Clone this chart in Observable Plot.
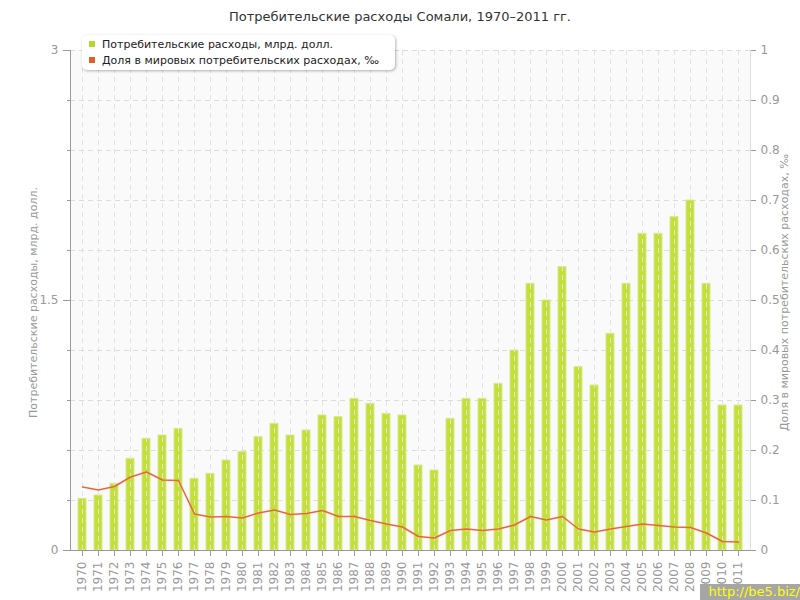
<!DOCTYPE html>
<html><head><meta charset="utf-8">
<script src="https://cdn.jsdelivr.net/npm/d3@7"></script>
<script src="https://cdn.jsdelivr.net/npm/@observablehq/plot@0.6"></script>
<style>
body{margin:0;background:#fff;font-family:"DejaVu Sans",sans-serif;}
#wrap{position:relative;width:800px;height:600px;overflow:hidden;}
#title{position:absolute;top:9px;left:0;width:800px;text-align:center;font-size:13px;color:#333;}
#legend{position:absolute;left:82px;top:35px;width:313px;height:35px;background:#fff;border-radius:5px;box-shadow:1px 1px 3px rgba(0,0,0,0.3);font-size:11px;color:#222;}
.li{position:absolute;left:7px;white-space:nowrap;}
.sw{display:inline-block;width:6px;height:6px;margin-right:7px;vertical-align:1px;}
.ylab{position:absolute;font-size:11px;color:#999;white-space:nowrap;transform-origin:center center;}
#wm{position:absolute;left:700px;top:584px;width:100px;height:16px;background:#a6a6a6;color:#ffff00;font-size:13px;line-height:16px;text-align:right;}
</style></head>
<body><div id="wrap"></div>
<script>
const years = [1970,1971,1972,1973,1974,1975,1976,1977,1978,1979,1980,1981,1982,1983,1984,1985,1986,1987,1988,1989,1990,1991,1992,1993,1994,1995,1996,1997,1998,1999,2000,2001,2002,2003,2004,2005,2006,2007,2008,2009,2010,2011];
const spending = [0.31,0.33,0.40,0.55,0.67,0.69,0.73,0.43,0.46,0.54,0.59,0.68,0.76,0.69,0.72,0.81,0.80,0.91,0.88,0.82,0.81,0.51,0.48,0.79,0.91,0.91,1.00,1.20,1.60,1.50,1.70,1.10,0.99,1.30,1.60,1.90,1.90,2.00,2.10,1.60,0.87,0.87];
const share = [0.127,0.121,0.128,0.147,0.157,0.141,0.140,0.073,0.067,0.068,0.065,0.075,0.081,0.072,0.074,0.080,0.068,0.068,0.060,0.053,0.047,0.028,0.025,0.040,0.043,0.040,0.043,0.051,0.068,0.061,0.068,0.043,0.037,0.043,0.048,0.053,0.050,0.047,0.046,0.035,0.018,0.017];
const leftTicks = [0,1.5,3];
const leftGrid = [0.3,0.6,0.9,1.2,1.5,1.8,2.1,2.4,2.7,3];
const rightTicks = [0,0.1,0.2,0.3,0.4,0.5,0.6,0.7,0.8,0.9,1];
const title = "Потребительские расходы Сомали, 1970–2011 гг.";
const seriesNames = ["Потребительские расходы, млрд. долл.","Доля в мировых потребительских расходах, ‰"];
const leftLabel = "Потребительские расходы, млрд. долл.";
const rightLabel = "Доля в мировых потребительских расходах, ‰";
const ratio = 3; // left max / right max

const data = years.map((y,i)=>({year:String(y), spend:spending[i], share:share[i]}));

const chart = Plot.plot({
  width:800, height:600, marginLeft:70, marginRight:50, marginTop:50, marginBottom:50,
  style:{fontFamily:"DejaVu Sans", fontSize:"12px", color:"#999", background:"transparent"},
  x:{type:"band", domain:years.map(String), paddingInner:0.52, paddingOuter:0.26, align:0.5},
  y:{domain:[0,3]},
  marks:[
    Plot.frame({fill:"#fafafa", stroke:null}),
    Plot.ruleY(leftGrid, {stroke:"#dcdcdc", strokeDasharray:"5,4"}),
    Plot.barY(data, {x:"year", y:"spend", fill:"#c4de3c", stroke:"#d7ea86", strokeWidth:1}),
    Plot.ruleX(data, {x:"year", stroke:"#e2e2e2", strokeDasharray:"5,4"}),
    Plot.line(data, {x:"year", y:d=>d.share*ratio, stroke:"#e8683e", strokeWidth:1.5}),
    Plot.frame({anchor:"left", stroke:"#999"}),
    Plot.frame({anchor:"right", stroke:"#ddd"}),
    Plot.frame({anchor:"bottom", stroke:"#999"}),
    Plot.axisX({tickRotate:-90, tickSize:6, tickPadding:5, stroke:"#999", label:null, fontSize:12}),
    Plot.axisY(leftGrid, {anchor:"left", tickSize:3, tickFormat:()=>"", stroke:"#999", label:null}),
    Plot.axisY(leftTicks, {anchor:"left", tickSize:7, tickPadding:5, stroke:"#999", label:null, tickFormat:d=>String(d)}),
    Plot.axisY(rightTicks.map(t=>t*ratio), {anchor:"right", tickSize:5, tickPadding:5, stroke:"#999", label:null, tickFormat:d=>String(+(d/ratio).toFixed(1))})
  ]
});
const wrap = document.getElementById("wrap");
wrap.appendChild(chart);
const t = document.createElement("div"); t.id="title"; t.textContent=title; wrap.appendChild(t);
const lg = document.createElement("div"); lg.id="legend";
const colors = ["#b8d62e","#e0602c"];
seriesNames.forEach((n,i)=>{const r=document.createElement("div");r.className="li";r.style.top=(3+i*16)+"px";
 r.innerHTML=`<span class="sw" style="background:${colors[i]}"></span>`; r.appendChild(document.createTextNode(n)); lg.appendChild(r);});
wrap.appendChild(lg);
function ylab(text, cx, cy){const d=document.createElement("div");d.className="ylab";d.textContent=text;wrap.appendChild(d);
 const w=d.offsetWidth,h=d.offsetHeight;d.style.left=(cx-w/2)+"px";d.style.top=(cy-h/2)+"px";d.style.transform="rotate(-90deg)";}
ylab(leftLabel, 33, 302);
ylab(rightLabel, 784, 292);
const wm=document.createElement("div");wm.id="wm";wm.textContent="http://be5.biz/";wrap.appendChild(wm);
</script></body></html>
